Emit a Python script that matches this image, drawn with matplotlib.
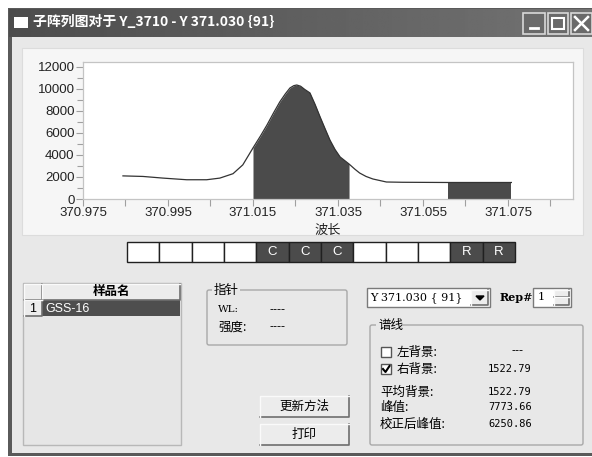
import numpy as np
import matplotlib
matplotlib.use("Agg")
from matplotlib import pyplot as plt
from matplotlib.patches import Rectangle, FancyBboxPatch
from matplotlib.ticker import MultipleLocator, FixedLocator

plt.rcParams['font.family'] = ['Liberation Sans', 'Noto Sans CJK SC', 'DejaVu Sans']

# spectrum
wavelength = [370.9844, 370.9891, 370.9938, 370.9994, 371.0041, 371.0072, 371.0103,
              371.0126, 371.0150, 371.0168, 371.0183, 371.0198, 371.0213, 371.0226,
              371.0237, 371.0246, 371.0253, 371.0262, 371.0272, 371.0284, 371.0296,
              371.0308, 371.0320, 371.0331, 371.0343, 371.0355, 371.0376, 371.0390,
              371.0401, 371.0416, 371.0432, 371.0464, 371.0502, 371.0608, 371.0700,
              371.0758]
intensity = [2100, 2050, 1900, 1750, 1750, 1900, 2300,
             3100, 4640, 5750, 6730, 7800, 8820, 9550,
             10090, 10300, 10360, 10250, 9950, 9640, 8600,
             7450, 6350, 5360, 4500, 3820, 3180, 2700,
             2360, 2050, 1820, 1545, 1520, 1500, 1500,
             1500]
peak_range = (371.0150, 371.0376)
right_bg_range = (371.0608, 371.0758)

cell_labels = ['', '', '', '', 'C', 'C', 'C', '', '', '', 'R', 'R']

title = "子阵列图对于 Y_3710 - Y 371.030 {91}"
sample_names = ["GSS-16"]
line_name = "Y 371.030 { 91}"
stats_labels = ["平均背景:", "峰值:", "校正后峰值:"]
stats_values = ["1522.79", "7773.66", "6250.86"]

W, H = 592, 457
fig = plt.figure(figsize=(W / 100, H / 100), dpi=100)
fig.patch.set_facecolor("white")

# pixel-coordinate canvas for the dialog
bg = fig.add_axes([0, 0, 1, 1])
bg.set_xlim(0, W)
bg.set_ylim(H, 0)
bg.axis("off")

body = "#e8e8e8"
dark = "#4b4b4b"
cjk = ['Noto Sans CJK SC', 'DejaVu Sans']


def rect(x0, y0, x1, y1, fc, ec="none", lw=1, z=1):
    bg.add_patch(Rectangle((x0, y0), x1 - x0, y1 - y0, facecolor=fc,
                           edgecolor=ec, linewidth=lw, zorder=z))


def raised(x0, y0, x1, y1, fc="#ececec", z=3):
    rect(x0, y0, x1, y1, fc, z=z)
    bg.plot([x0, x1, x1], [y1, y1, y0], color="#6e6e6e", lw=1.2, zorder=z + 1)
    bg.plot([x0, x0, x1], [y1, y0, y0], color="#fafafa", lw=1.0, zorder=z + 1)


# window frame and body
rect(8, 8, 600, 456, "#5a5a5a")
rect(12, 37, 596, 453, body)

# title bar gradient
grad = np.linspace(0.30, 0.45, 200).reshape(1, -1)
bg.imshow(np.vstack([grad, grad]), cmap="gray", vmin=0, vmax=1, aspect="auto",
          extent=(9, 592, 37, 9), zorder=2)
bg.set_xlim(0, W)
bg.set_ylim(H, 0)
rect(14, 17, 28, 28, "white", z=3)
bg.text(33, 22.5, title, color="white", fontsize=10, fontweight="bold",
        family=cjk, va="center", ha="left", zorder=4)
for i, (x0, x1) in enumerate([(523, 545), (548, 568), (571, 592)]):
    rect(x0, 13, x1, 34, "#6a6a6a", ec="#d8d8d8", lw=1.2, z=3)
bg.plot([530, 538], [28, 28], color="white", lw=2, zorder=4)
rect(552, 18, 564, 29, "none", ec="white", lw=1.5, z=4)
bg.plot([575, 588], [17, 30], color="white", lw=1.8, zorder=4)
bg.plot([575, 588], [30, 17], color="white", lw=1.8, zorder=4)

# chart panel
rect(22, 48, 583, 235, "#f6f6f6", ec="#dcdcdc", lw=0.8)

ax = fig.add_axes([83 / W, 1 - 199 / H, 490 / W, 137 / H])
ax.set_facecolor("white")
ax.plot(wavelength, intensity, color="#333333", lw=0.9)
wl = np.array(wavelength)
iv = np.array(intensity)
for lo, hi in [peak_range, right_bg_range]:
    m = (wl >= lo - 1e-9) & (wl <= hi + 1e-9)
    ax.fill_between(wl[m], 0, iv[m], color=dark, lw=0)
ax.set_xlim(370.975, 371.0903)
ax.set_ylim(0, 12450)
ax.xaxis.set_major_locator(FixedLocator([370.975, 370.995, 371.015, 371.035,
                                         371.055, 371.075]))
ax.xaxis.set_minor_locator(FixedLocator([370.985, 371.005, 371.025, 371.045,
                                         371.065, 371.085]))
ax.xaxis.set_major_formatter(matplotlib.ticker.FormatStrFormatter("%.3f"))
ax.yaxis.set_major_locator(MultipleLocator(2000))
ax.yaxis.set_minor_locator(MultipleLocator(1000))
ax.tick_params(which="both", colors="#a0a0a0", labelcolor="#222222",
               labelsize=9.5, width=0.8)
ax.tick_params(which="major", length=5, pad=1)
ax.tick_params(which="minor", length=4)
ax.tick_params(axis="x", which="minor", length=5)
for s in ax.spines.values():
    s.set_color("#c4c4c4")
    s.set_linewidth(0.9)
ax.set_xlabel("波长", family=cjk, fontsize=9.5, labelpad=3, color="#222222")

# cell strip
cx0, cx1, cy0, cy1 = 127, 515, 242, 262
cw = (cx1 - cx0) / len(cell_labels)
for i, lab in enumerate(cell_labels):
    fc = dark if lab else "white"
    rect(cx0 + i * cw, cy0, cx0 + (i + 1) * cw, cy1, fc, ec="#202020", lw=1.0, z=3)
    if lab:
        bg.text(cx0 + (i + 0.5) * cw, (cy0 + cy1) / 2, lab, color="white",
                fontsize=9.5, ha="center", va="center", zorder=4)

# sample table
rect(23, 283, 181, 445, "#e6e6e6", ec="#b8b8b8", lw=1.0)
raised(24, 284, 42, 300)
raised(42, 284, 180, 300)
bg.text(111, 292, "样品名", family=cjk, fontsize=9, fontweight="bold",
        ha="center", va="center", zorder=5)
raised(24, 300, 42, 316)
bg.text(33, 308.5, "1", fontsize=9, ha="center", va="center", zorder=5)
rect(42, 300, 180, 316, "#4e4e4e", z=3)
bg.text(45, 308.5, sample_names[0], color="white", fontsize=9,
        ha="left", va="center", zorder=5)

# pointer group
bg.add_patch(FancyBboxPatch((207, 290), 140, 55, boxstyle="round,pad=0,rounding_size=2",
                            facecolor="none", edgecolor="#a8a8a8", lw=1.0, zorder=2))
rect(212, 283, 240, 297, body, z=3)
bg.text(214, 290, "指针", family=cjk, fontsize=9, ha="left", va="center", zorder=4)
bg.text(218, 310, "WL:", family=['DejaVu Serif'], fontsize=7.5, ha="left", va="center")
bg.text(270, 310, "----", fontsize=9, ha="left", va="center")
bg.text(218, 327, "强度:", family=cjk, fontsize=9, ha="left", va="center")
bg.text(270, 327, "----", fontsize=9, ha="left", va="center")

# buttons
for (y0, y1), lab in zip([(396, 417), (424, 445)], ["更新方法", "打印"]):
    raised(260, y0, 349, y1)
    bg.text(304.5, (y0 + y1) / 2, lab, family=cjk, fontsize=9,
            ha="center", va="center", zorder=5)

# line selector
rect(367, 288, 490, 307, "white", ec="#7a7a7a", lw=1.0, z=3)
bg.text(370, 297.5, line_name, family=['DejaVu Serif'], fontsize=8,
        ha="left", va="center", zorder=4)
raised(471, 290, 488, 305)
bg.fill([476, 484, 480], [296, 296, 300], color="black", zorder=6)
bg.text(500, 297.5, "Rep#", family=['DejaVu Serif'], fontsize=8, fontweight="bold",
        ha="left", va="center")
rect(533, 288, 571, 307, "white", ec="#7a7a7a", lw=1.0, z=3)
bg.text(538, 297.5, "1", family=['DejaVu Serif'], fontsize=8, ha="left", va="center", zorder=4)
raised(554, 290, 569, 297)
raised(554, 297, 569, 305)

# spectral line group
bg.add_patch(FancyBboxPatch((370, 325), 213, 120, boxstyle="round,pad=0,rounding_size=2",
                            facecolor="none", edgecolor="#a8a8a8", lw=1.0, zorder=2))
rect(376, 318, 402, 332, body, z=3)
bg.text(378, 325, "谱线", family=cjk, fontsize=9, ha="left", va="center", zorder=4)
for yy, lab, val, chk in [(352, "左背景:", "---", False), (369, "右背景:", "1522.79", True)]:
    rect(381, yy - 5, 391, yy + 5, "white", ec="#555555", lw=1.0, z=3)
    if chk:
        bg.plot([383, 385.5, 389.5], [yy, yy + 3, yy - 3], color="black", lw=1.5, zorder=4)
    bg.text(397, yy, lab, family=cjk, fontsize=9, ha="left", va="center")
    if val == "---":
        bg.text(517, yy - 1, val, fontsize=9, ha="center", va="center")
    else:
        bg.text(488, yy, val, family=['DejaVu Sans Mono'], fontsize=7.5,
                ha="left", va="center")
for yy, lab, val in zip([392, 407, 424], stats_labels, stats_values):
    bg.text(380, yy, lab, family=cjk, fontsize=9, ha="left", va="center")
    bg.text(488, yy, val, family=['DejaVu Sans Mono'], fontsize=7.5,
            ha="left", va="center")

fig.savefig("out.png", dpi=100)
